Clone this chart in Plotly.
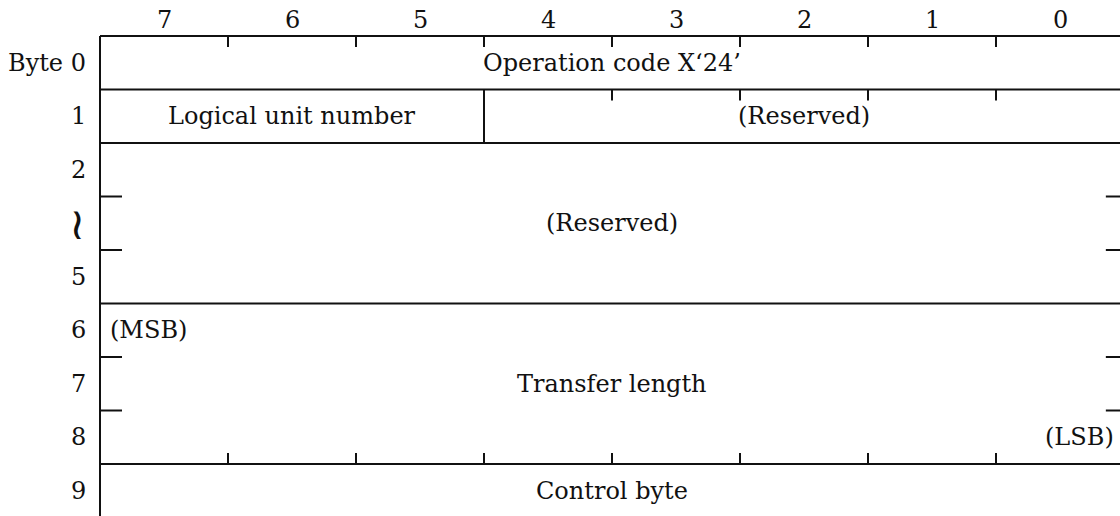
import plotly.graph_objects as go

# ---- data ----
bit_labels = ["7", "6", "5", "4", "3", "2", "1", "0"]
row_labels = ["Byte 0", "1", "2", "\u2240", "5", "6", "7", "8", "9"]
field_names = ["Operation code X\u201824\u2019", "Logical unit number", "(Reserved)",
               "(Reserved)", "Transfer length", "Control byte"]
field_row_start = [0, 1, 1, 2, 5, 8]
field_row_end = [1, 2, 2, 5, 8, 9]
field_bit_hi = [7, 7, 4, 7, 7, 7]
field_bit_lo = [0, 5, 0, 0, 0, 0]
sub_notes = ["(MSB)", "(LSB)"]
sub_note_rows = [5, 7]

# ---- geometry (pixels) ----
W, H = 1120, 516
X0, COLW = 100, 128
Y0, ROWH = 36, 53.5
n_bits = len(bit_labels)
n_rows = len(row_labels)

xr = [-X0 / COLW, (W - X0) / COLW]
yr = [(H - Y0) / ROWH, -Y0 / ROWH]

FONT = "DejaVu Serif"
FS = 24
LW = 2
COL = "#111111"

def bx(bit):  # left edge x of a bit column (bit 7 at left)
    return 7 - bit

shapes = []
def line(x0, y0, x1, y1):
    shapes.append(dict(type="line", x0=x0, y0=y0, x1=x1, y1=y1, xref="x", yref="y",
                       line=dict(color=COL, width=LW)))

tick_y = 11 / ROWH
side_tick = 22 / COLW

# left vertical border
line(0, 0, 0, n_rows + 0.5)
# horizontal boundaries of fields
bounds = sorted(set(field_row_start) | set(field_row_end[:-1]))
for r in bounds:
    line(0, r, n_bits + 0.1, r)
# vertical dividers inside fields
for i in range(len(field_names)):
    if field_bit_hi[i] != 7:
        line(bx(field_bit_hi[i]), field_row_start[i], bx(field_bit_hi[i]), field_row_end[i])
# bit ticks on top of first row
for b in range(1, n_bits):
    line(b, 0, b, tick_y)
# ticks on top of reserved part of row 1
for b in range(bx(field_bit_hi[2]) + 1, n_bits):
    line(b, 1, b, 1 + tick_y)
# ticks above bottom of multi-byte transfer length
for b in range(1, n_bits):
    line(b, field_row_end[4], b, field_row_end[4] - tick_y)
# side ticks for multi-byte fields
for i in [3, 4]:
    for r in range(field_row_start[i] + 1, field_row_end[i]):
        line(0, r, side_tick, r)
        line(n_bits, r, n_bits - side_tick + 0.03, r)

annotations = []
def text(x, y, s, xanchor="center", size=FS, family=FONT, weight="normal"):
    annotations.append(dict(x=x, y=y, xref="x", yref="y", text=s, showarrow=False,
                            xanchor=xanchor, yanchor="middle",
                            font=dict(family=family, size=size, color=COL, weight=weight)))

for i, b in enumerate(bit_labels):
    text(i + 0.5, -0.3, b)
for r, lab in enumerate(row_labels):
    if r == 3:
        text(-12 / COLW, r + 0.5, lab, xanchor="right", size=44,
             family="DejaVu Sans ExtraLight, DejaVu Sans", weight=200)
    else:
        text(-12 / COLW, r + 0.5, lab, xanchor="right")
for i, name in enumerate(field_names):
    xc = (bx(field_bit_hi[i]) + bx(field_bit_lo[i]) + 1) / 2
    yc = (field_row_start[i] + field_row_end[i]) / 2
    text(xc, yc, name)
text(8 / COLW, sub_note_rows[0] + 0.5, sub_notes[0], xanchor="left")
text(n_bits - 8 / COLW, sub_note_rows[1] + 0.5, sub_notes[1], xanchor="right")

fig = go.Figure()
fig.add_trace(go.Scatter(x=[], y=[], showlegend=False))
fig.update_layout(
    width=W, height=H, margin=dict(l=0, r=0, t=0, b=0),
    paper_bgcolor="white", plot_bgcolor="white",
    xaxis=dict(range=xr, visible=False, fixedrange=True),
    yaxis=dict(range=yr, visible=False, fixedrange=True),
    shapes=shapes, annotations=annotations, showlegend=False,
)
fig.write_html("out.html", config={"displayModeBar": False},
               post_script="document.body.style.margin='0';document.body.style.overflow='hidden';")
